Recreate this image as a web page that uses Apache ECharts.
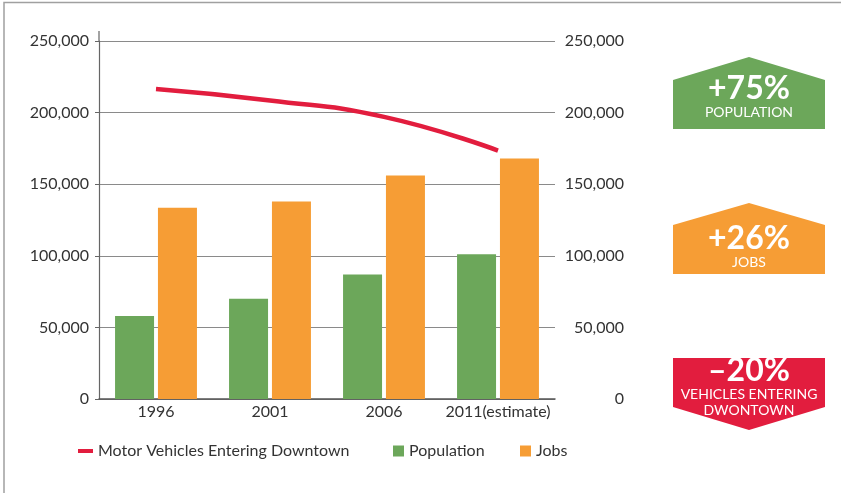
<!DOCTYPE html>
<html>
<head>
<meta charset="utf-8">
<script src="https://cdn.jsdelivr.net/npm/echarts@6/dist/echarts.min.js"></script>
<style>
  html, body { margin: 0; padding: 0; background: #fff; }
  #chart { width: 841px; height: 493px; }
</style>
</head>
<body>
<div id="chart"></div>
<script>
// Downtown growth, 1996–2011
const years = ['1996', '2001', '2006', '2011(estimate)'];
const population = [58000, 70000, 87000, 101000];
const jobs = [133500, 138000, 156000, 168000];
const vehicles = [216500, 208500, 197000, 173500];
const yTicks = [0, 50000, 100000, 150000, 200000, 250000];

const GREEN = '#6ca75a';
const ORANGE = '#f69d35';
const RED = '#e21d3e';
const FONT = 'Lato, "Open Sans", sans-serif';

const fmt = v => v.toLocaleString('en-US');

const valueAxis = (pos) => ({
  type: 'value',
  position: pos,
  min: yTicks[0],
  max: yTicks[yTicks.length - 1],
  interval: yTicks[1] - yTicks[0],
  axisLine: { show: pos === 'left', lineStyle: { color: '#666', width: 1.2 } },
  axisTick: { show: pos === 'left', length: 4, lineStyle: { color: '#666' } },
  splitLine: { show: pos === 'left', lineStyle: { color: '#8a8a8a', width: 1 } },
  axisLabel: {
    formatter: fmt,
    color: '#333',
    fontFamily: FONT,
    fontSize: 16,
    align: 'right',
    margin: pos === 'left' ? 10 : 69
  }
});

// Badge: pentagon pointing up or down, with headline and caption
function badge(cx, top, bottom, tip, color, big, lines, down) {
  const l = cx - 76, r = cx + 76;
  const pts = down
    ? [[l, top], [r, top], [r, bottom], [cx, tip], [l, bottom]]
    : [[l, bottom], [l, top], [cx, tip], [r, top], [r, bottom]];
  const els = [{
    type: 'polygon',
    shape: { points: pts },
    style: { fill: color }
  }];
  els.push({
    type: 'text',
    x: cx, y: big.y,
    style: {
      text: big.text, fill: '#fff', font: 'bold 32px ' + FONT,
      align: 'center', verticalAlign: 'middle'
    }
  });
  lines.forEach(t => els.push({
    type: 'text',
    x: cx, y: t.y,
    style: {
      text: t.text, fill: '#fff', font: '14px ' + FONT,
      align: 'center', verticalAlign: 'middle'
    }
  }));
  return els;
}

const chart = echarts.init(document.getElementById('chart'), null, { renderer: 'canvas' });

const legendText = { color: '#333', fontFamily: FONT, fontSize: 16 };

chart.setOption({
  animation: false,
  backgroundColor: '#fff',
  grid: { left: 99, right: 286, top: 41, bottom: 94 },
  xAxis: {
    type: 'category',
    data: years,
    axisLine: { lineStyle: { color: '#555', width: 1.5 } },
    axisTick: { show: false },
    axisLabel: { interval: 0, color: '#333', fontFamily: FONT, fontSize: 16, margin: 5 }
  },
  yAxis: [valueAxis('left'), valueAxis('right')],
  legend: [
    {
      data: ['Motor Vehicles Entering Downtown'],
      left: 73, top: 438, icon: 'rect', itemWidth: 15, itemHeight: 4,
      textStyle: legendText
    },
    {
      data: ['Population'],
      left: 388, top: 438, icon: 'rect', itemWidth: 11, itemHeight: 11,
      textStyle: legendText
    },
    {
      data: ['Jobs'],
      left: 515, top: 438, icon: 'rect', itemWidth: 11, itemHeight: 11,
      textStyle: legendText
    }
  ],
  series: [
    {
      name: 'Population', type: 'bar', data: population,
      barWidth: 39, barGap: '10%', itemStyle: { color: GREEN }
    },
    {
      name: 'Jobs', type: 'bar', data: jobs,
      barWidth: 39, barGap: '10%', itemStyle: { color: ORANGE }
    },
    {
      name: 'Motor Vehicles Entering Downtown', type: 'line', data: vehicles,
      smooth: 0.5, showSymbol: false, symbol: 'none', z: 5,
      lineStyle: { color: RED, width: 4.5 }, itemStyle: { color: RED }
    }
  ],
  graphic: [
    // outer frame (top and left edges)
    { type: 'polyline', shape: { points: [[4, 493], [4, 2.5], [841, 2.5]] },
      style: { stroke: '#a0a0a0', lineWidth: 1.5, fill: null } },
    // axis line overshoot above the top gridline
    { type: 'line', shape: { x1: 99, y1: 31, x2: 99, y2: 41 },
      style: { stroke: '#666', lineWidth: 1.2 } },
    ...badge(749, 80, 129, 57, GREEN, { text: '+75%', y: 89 },
      [{ text: 'POPULATION', y: 112 }], false),
    ...badge(749, 225, 274, 203, ORANGE, { text: '+26%', y: 239 },
      [{ text: 'JOBS', y: 262 }], false),
    ...badge(749, 358, 407, 430, RED, { text: '\u201320%', y: 371 },
      [{ text: 'VEHICLES ENTERING', y: 394 }, { text: 'DWONTOWN', y: 410 }], true)
  ]
});
</script>
</body>
</html>
